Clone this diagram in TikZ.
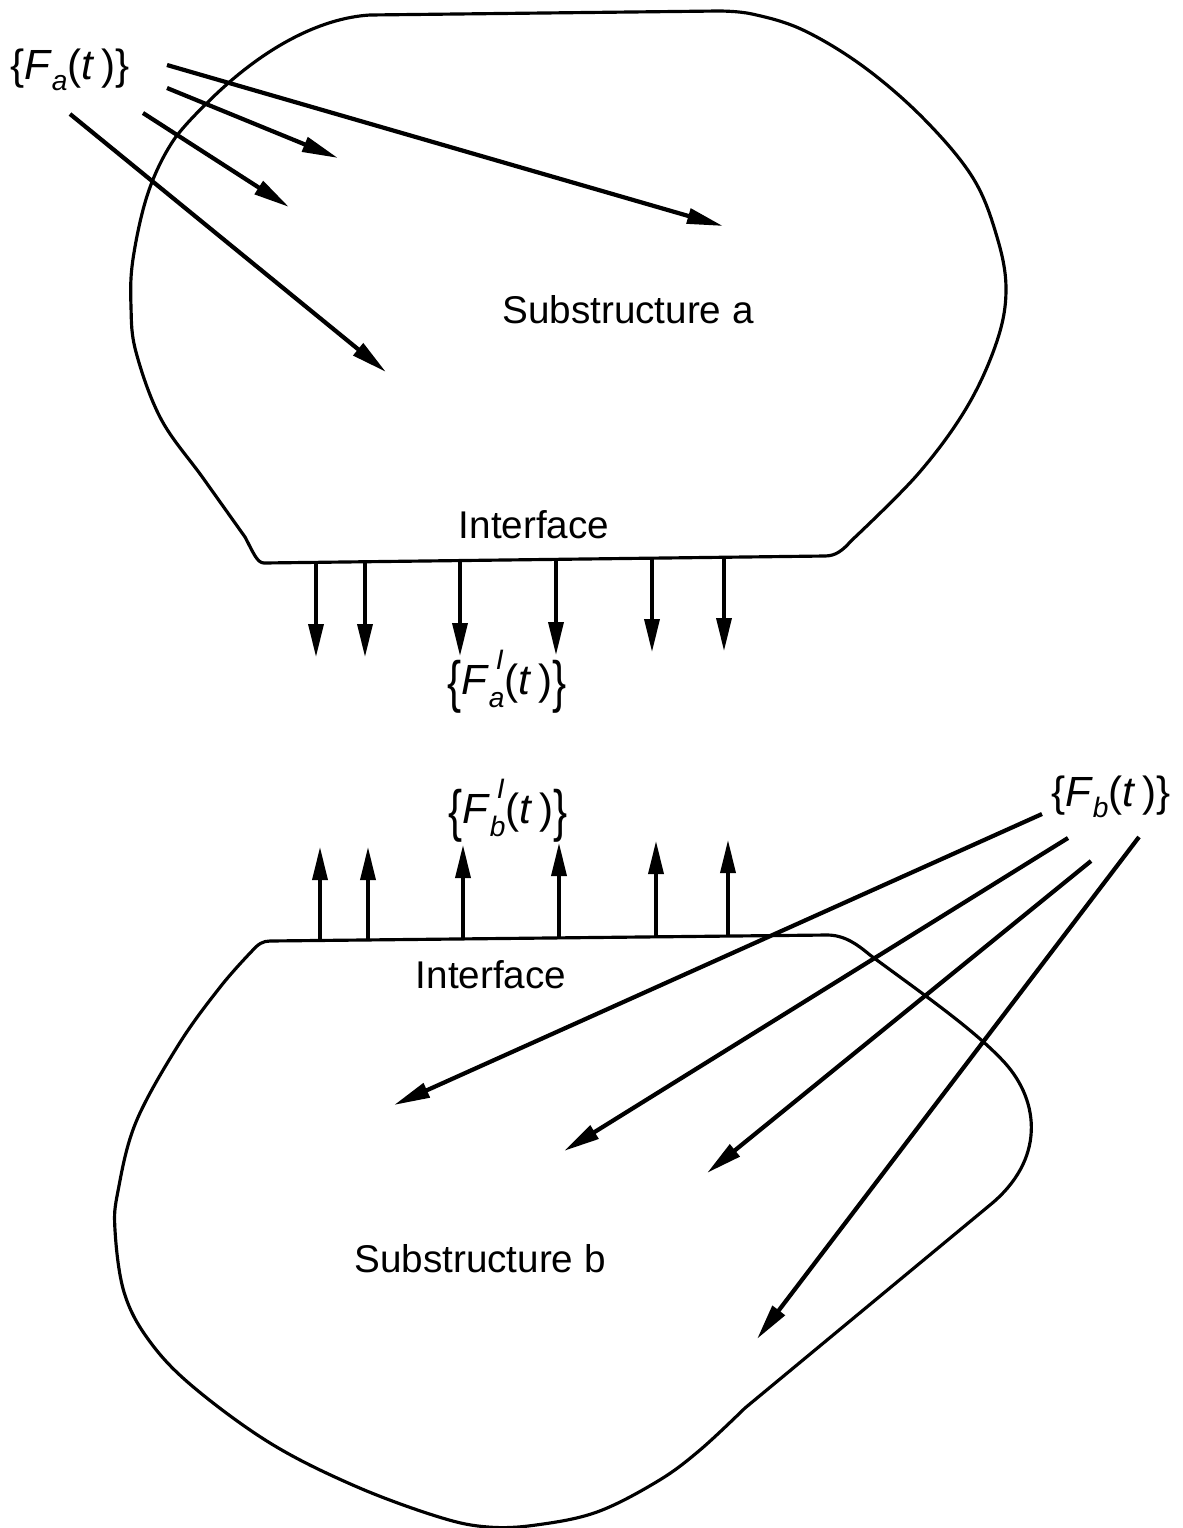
\documentclass[tikz,border=0pt]{standalone}
\usepackage{fontspec}
\setmainfont{Liberation Sans}
\usepackage{graphicx}
\usetikzlibrary{arrows.meta}
\newcommand{\subtxt}[1]{{\fontsize{8}{9}\selectfont\textit{#1}}}
\newcommand{\bigbrace}[1]{\raisebox{-0.35ex}{\scalebox{1}[1.35]{#1}}}
\newcommand{\Flab}[1]{\{\textit{F}\raisebox{-0.5ex}{\subtxt{#1}}(\textit{t}\,)\}}
\newcommand{\FIlab}[1]{\bigbrace{\{}\textit{F}\makebox[0pt][l]{\raisebox{1.1ex}{\,\subtxt{I}}}\raisebox{-0.6ex}{\subtxt{#1}}(\textit{t}\,)\bigbrace{\}}}
\tikzset{
  outline/.style={line width=0.9pt, line join=round},
  force/.style={line width=1.2pt, -{Triangle[length=3.6mm,width=1.5mm]}},
  iforce/.style={line width=1pt, -{Triangle[length=3.3mm,width=1.5mm]}},
  lbl/.style={font=\fontsize{11}{13}\selectfont, inner sep=0pt},
  mlbl/.style={font=\fontsize{12}{14}\selectfont, inner sep=0pt},
}
\begin{document}
\begin{tikzpicture}[x=0.1mm,y=-0.1mm]
\useasboundingbox (0,0) rectangle (1182,1528);

% Substructure a
\draw[outline] (264,563) -- (825,556) .. controls (836,556) and (843,550) .. (851,541)
  -- plot[smooth, tension=0.6] coordinates {(851,541) (918,474) (967,407) (997,341) (1006,289) (997,237) (973,178) (924,119) (864,67) (803,30) (752,14) (718,11)}
  -- (370,15) .. controls (320,18) and (262,48) .. (207,103)
  -- plot[smooth, tension=0.6] coordinates {(207,103) (173,141) (148,193) (133,259) (131,307) (136,352) (161,419) (203,478) (245,537)}
  .. controls (253,552) and (257,563) .. (264,563) -- cycle;

% Substructure b
\draw[outline] (270,941) -- (827,935) .. controls (845,935) and (858,945) .. (870,955)
  .. controls (920,992) and (975,1030) .. (1005,1063)
  .. controls (1040,1102) and (1045,1160) .. (990,1205)
  -- (745,1408)
  -- plot[smooth, tension=0.6] coordinates {(745,1408) (700,1450) (658,1481) (597,1512) (536,1525) (488,1527) (439,1517) (355,1486) (270,1443) (191,1385) (148,1339) (124,1292) (115,1230) (118,1191) (136,1122) (179,1044) (221,986) (252,951)}
  .. controls (258,944) and (263,941) .. (270,941) -- cycle;

% Labels
\node[lbl] (suba) at (628,310) {Substructure a};
\node[lbl] (subb) at (480,1259) {Substructure b};
\node[lbl] (ifa) at (534,525) {Interface};
\node[lbl] (ifb) at (491,975) {Interface};
\node[mlbl] (Fa) at (70,70) {\Flab{a}};
\node[mlbl] (Fb) at (1111,797) {\Flab{b}};
\node[mlbl] (FaI) at (507,682) {\FIlab{a}};
\node[mlbl] (FbI) at (508,811) {\FIlab{b}};

% External forces on a
\coordinate (a1s) at (167,65);  \coordinate (a1e) at (723,226);
\coordinate (a2s) at (167,88);  \coordinate (a2e) at (338,158);
\coordinate (a3s) at (143,113); \coordinate (a3e) at (289,207);
\coordinate (a4s) at (70,114);  \coordinate (a4e) at (386,372);
\draw[force] (a1s) -- (a1e);
\draw[force] (a2s) -- (a2e);
\draw[force] (a3s) -- (a3e);
\draw[force] (a4s) -- (a4e);

% External forces on b
\coordinate (b1s) at (1042,814); \coordinate (b1e) at (394,1105);
\coordinate (b2s) at (1068,838); \coordinate (b2e) at (564,1151);
\coordinate (b3s) at (1091,861); \coordinate (b3e) at (707,1173);
\coordinate (b4s) at (1139,837); \coordinate (b4e) at (757,1339);
\draw[force] (b1s) -- (b1e);
\draw[force] (b2s) -- (b2e);
\draw[force] (b3s) -- (b3e);
\draw[force] (b4s) -- (b4e);

% Interface forces on a
\foreach \i/\x/\ys/\ye in {1/316/562.4/657, 2/365/561.7/657, 3/460/560.6/656, 4/556/559.4/655, 5/652/558.2/652, 6/724/557.3/651} {
  \coordinate (ia\i s) at (\x,\ys);
  \coordinate (ia\i e) at (\x,\ye);
  \draw[iforce] (ia\i s) -- (ia\i e);
}
% Interface forces on b
\foreach \i/\x/\ys/\ye in {1/320/940.5/847, 2/368/940/847, 3/463/939/845, 4/559/938/843, 5/656/937/841, 6/728/936/840} {
  \coordinate (ib\i s) at (\x,\ys);
  \coordinate (ib\i e) at (\x,\ye);
  \draw[iforce] (ib\i s) -- (ib\i e);
}
\end{tikzpicture}
\end{document}
